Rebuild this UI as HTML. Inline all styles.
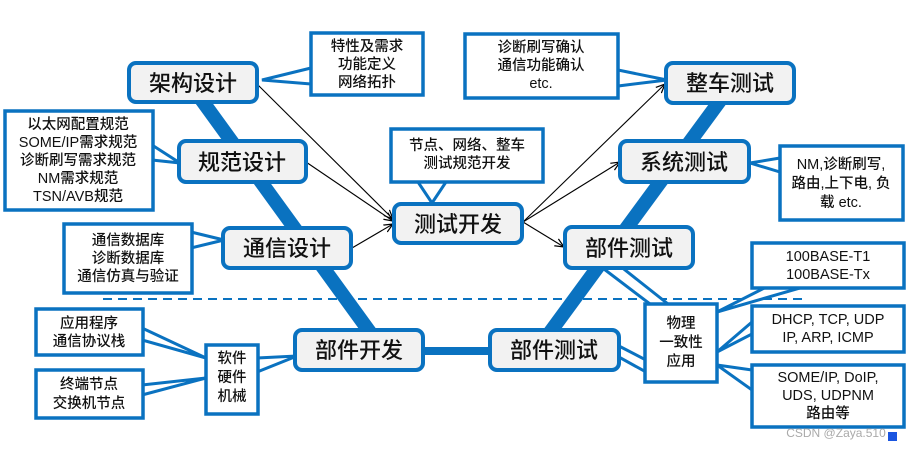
<!DOCTYPE html>
<html><head><meta charset="utf-8"><style>
body{margin:0;background:#fff;}
svg text{font-family:"Liberation Sans","Noto Sans CJK SC",sans-serif;fill:#111;text-anchor:middle;}
.m{font-size:22px;font-weight:500;}
.c{font-size:14.5px;font-weight:500;}
</style></head><body>
<svg width="912" height="450" viewBox="0 0 912 450" xmlns="http://www.w3.org/2000/svg">
<defs><marker id="a" markerWidth="10" markerHeight="10" refX="9" refY="5" orient="auto" markerUnits="userSpaceOnUse"><path d="M0,1 L9,5 L0,9" fill="none" stroke="#000" stroke-width="1.2"/></marker></defs>
<g stroke="#0a72c0" fill="none">
<line x1="198" y1="95" x2="372" y2="335" stroke-width="14"/>
<line x1="548" y1="335" x2="722" y2="98" stroke-width="14"/>
<line x1="420" y1="351" x2="492" y2="351" stroke-width="8"/>
<line x1="103" y1="299" x2="808" y2="299" stroke-width="2" stroke-dasharray="9,6"/>
</g>
<g fill="#fff" stroke="#0a72c0" stroke-width="3" stroke-linejoin="miter">
<polygon points="311,68 262,80 311,84"/>
<polygon points="152,145 180,163 152,160"/>
<polygon points="191,232 224,240 191,248"/>
<polygon points="418,182 432,203 446,182"/>
<polygon points="618,70 667,80 618,86"/>
<polygon points="780,158 750,163 780,172"/>
<polygon points="780,280 717,312 800,288"/>
<polygon points="752,322 717,352 752,334"/>
<polygon points="752,370 717,365 752,390"/>
<polygon points="600,266 650,304 668,304 620,266"/>
<polygon points="617,345 646,360 646,372 617,356"/>
<polygon points="142,328 206,358 142,340"/>
<polygon points="142,385 206,378 142,395"/>
<polygon points="257,358 297,356 257,372"/>
</g>
<g fill="#fff" stroke="#0a72c0" stroke-width="3.5">
<rect x="311" y="33" width="112" height="62"/>
<rect x="5" y="111" width="148" height="99"/>
<rect x="64" y="224" width="128" height="69"/>
<rect x="391" y="129" width="152" height="53"/>
<rect x="465" y="34" width="153" height="64"/>
<rect x="780" y="146" width="123" height="74"/>
<rect x="752" y="243" width="152" height="45"/>
<rect x="752" y="306" width="152" height="46"/>
<rect x="752" y="365" width="152" height="62"/>
<rect x="645" y="304" width="72" height="78"/>
<rect x="206" y="345" width="52" height="69"/>
<rect x="36" y="309" width="107" height="46"/>
<rect x="36" y="370" width="107" height="48"/>
</g>
<g fill="none" stroke="#000" stroke-width="1.1" marker-end="url(#a)">
<line x1="257" y1="84" x2="393" y2="219"/>
<line x1="306" y1="162" x2="393" y2="221"/>
<line x1="352" y1="248" x2="393" y2="224"/>
<line x1="523" y1="222" x2="665" y2="84"/>
<line x1="523" y1="222" x2="620" y2="162"/>
<line x1="523" y1="222" x2="564" y2="247"/>
</g>
<g fill="#f2f2f2" stroke="#0a72c0" stroke-width="4">
<rect x="129" y="63" width="128" height="39" rx="7"/>
<rect x="179" y="141" width="127" height="41" rx="7"/>
<rect x="223" y="228" width="128" height="40" rx="7"/>
<rect x="394" y="204" width="128" height="39" rx="7"/>
<rect x="666" y="63" width="128" height="40" rx="7"/>
<rect x="620" y="141" width="129" height="41" rx="7"/>
<rect x="565" y="227" width="128" height="41" rx="7"/>
<rect x="295" y="330" width="128" height="40" rx="7"/>
<rect x="490" y="330" width="129" height="40" rx="7"/>
</g>
<g class="m">
<text x="193" y="91">架构设计</text>
<text x="242" y="170">规范设计</text>
<text x="287" y="256">通信设计</text>
<text x="458" y="232">测试开发</text>
<text x="730" y="91">整车测试</text>
<text x="684" y="170">系统测试</text>
<text x="629" y="256">部件测试</text>
<text x="359" y="358">部件开发</text>
<text x="554" y="358">部件测试</text>
</g>
<g class="c">
<text x="367" y="51">特性及需求</text><text x="367" y="69">功能定义</text><text x="367" y="87">网络拓扑</text>
<text x="78" y="129">以太网配置规范</text><text x="78" y="147">SOME/IP需求规范</text><text x="78" y="165">诊断刷写需求规范</text><text x="78" y="183">NM需求规范</text><text x="78" y="201">TSN/AVB规范</text>
<text x="128" y="245">通信数据库</text><text x="128" y="263">诊断数据库</text><text x="128" y="281">通信仿真与验证</text>
<text x="467" y="150">节点、网络、整车</text><text x="467" y="168">测试规范开发</text>
<text x="541" y="52">诊断刷写确认</text><text x="541" y="70">通信功能确认</text><text x="541" y="88">etc.</text>
<text x="841" y="169">NM,诊断刷写,</text><text x="841" y="188">路由,上下电, 负</text><text x="841" y="207">载 etc.</text>
<text x="828" y="261">100BASE-T1</text><text x="828" y="279">100BASE-Tx</text>
<text x="828" y="324">DHCP, TCP, UDP</text><text x="828" y="342">IP, ARP, ICMP</text>
<text x="828" y="382">SOME/IP, DoIP,</text><text x="828" y="400">UDS, UDPNM</text><text x="828" y="418">路由等</text>
<text x="681" y="328">物理</text><text x="681" y="347">一致性</text><text x="681" y="366">应用</text>
<text x="232" y="363">软件</text><text x="232" y="382">硬件</text><text x="232" y="401">机械</text>
<text x="89" y="328">应用程序</text><text x="89" y="346">通信协议栈</text>
<text x="89" y="389">终端节点</text><text x="89" y="408">交换机节点</text>
</g>
<text x="836" y="437" style="font-size:12px;fill:#aaa;">CSDN @Zaya.510</text>
<rect x="888" y="432" width="9" height="9" fill="#1a55e0"/>
</svg>
</body></html>
